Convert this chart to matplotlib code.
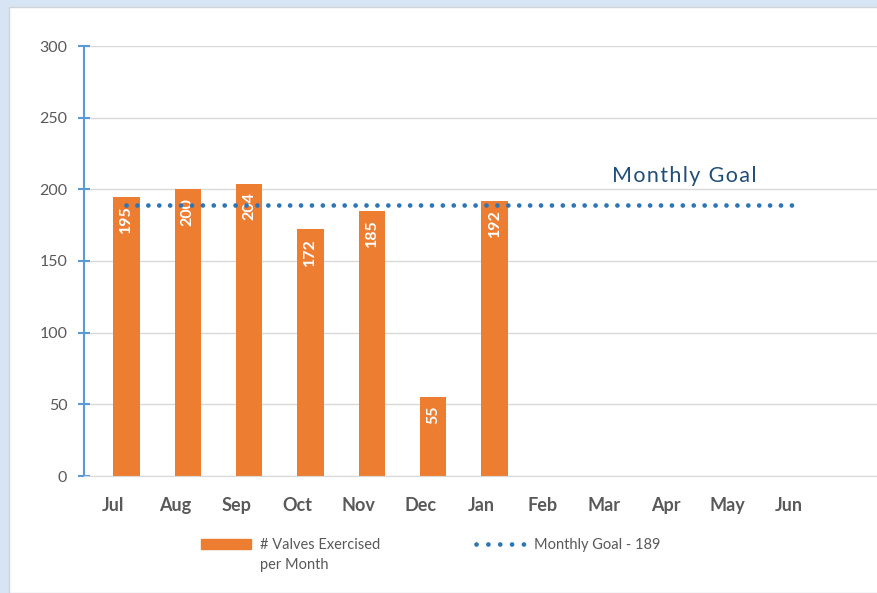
import numpy as np
import matplotlib
matplotlib.use('Agg')
from matplotlib import pyplot as plt
from matplotlib import transforms
from matplotlib.patches import Rectangle
from matplotlib.lines import Line2D

# data
months = ['Jul', 'Aug', 'Sep', 'Oct', 'Nov', 'Dec', 'Jan',
          'Feb', 'Mar', 'Apr', 'May', 'Jun']
valves = [195, 200, 204, 172, 185, 55, 192]
goal = [189] * 12
y_ticks = [0, 50, 100, 150, 200, 250, 300]

plt.rcParams['font.family'] = ['Lato', 'DejaVu Sans']

orange = '#ED7D31'
blue = '#2E75B6'
gray_txt = '#595959'

fig = plt.figure(figsize=(8.78, 5.93), dpi=100, facecolor='#d6e4f3')
# white panel behind everything
fig.patches.append(Rectangle((9 / 878, 0), 1, 1 - 7 / 593, transform=fig.transFigure,
                             facecolor='white', edgecolor='#d0d4d9', lw=1, zorder=-5))

ax = fig.add_axes([84 / 878, 1 - 476 / 593, (878 - 84) / 878, (476 - 46) / 593])
ax.set_facecolor('none')
ax.set_zorder(2)

x = np.arange(len(months))
bars = ax.bar(x[:len(valves)], valves, width=0.43, color=orange, zorder=2)

for xi, v in zip(x, valves):
    ax.text(xi, v - 6, str(v), rotation=90, ha='center', va='top',
            color='white', fontsize=11.5, fontweight='bold', zorder=3)

ax.plot(x, goal, color=blue, lw=3.4, linestyle=(0, (0.01, 2.3)),
        dash_capstyle='round', zorder=4)

# letter-spaced annotation
ax.text(7.92, 209, '\u200a'.join('Monthly Goal'), color='#1F4E79', fontsize=15.5,
        ha='left', va='center', family=['Lato', 'DejaVu Sans'])

ax.set_ylim(0, 300)
ax.set_xlim(-0.69, 12.25)
ax.set_yticks(y_ticks)
ax.set_xticks(x)
ax.set_xticklabels(months)
ax.grid(axis='y', color='#d9d9d9', lw=1, zorder=0)
ax.set_axisbelow(True)

for s in ['top', 'right']:
    ax.spines[s].set_visible(False)
ax.spines['left'].set_color('#5B9BD5')
ax.spines['left'].set_linewidth(1.5)
ax.spines['bottom'].set_color('#d9d9d9')

ax.tick_params(axis='y', direction='inout', length=8, width=1.5, color='#5B9BD5',
               labelcolor=gray_txt, labelsize=11.5, pad=8)
ax.tick_params(axis='x', length=0, labelcolor=gray_txt, labelsize=13, pad=15)
shift = transforms.ScaledTranslation(-13 / 100, 0, fig.dpi_scale_trans)
for lab in ax.get_xticklabels():
    lab.set_fontweight('bold')
    lab.set_transform(lab.get_transform() + shift)

handles = [Rectangle((0, 0), 1, 1, color=orange),
           Line2D([0], [0], color=blue, lw=3.4, linestyle=(0, (0.01, 2.5)),
                  dash_capstyle='round')]
leg = fig.legend(handles, ['# Valves Exercised', 'Monthly Goal - 189'],
                 loc='center', bbox_to_anchor=(431 / 878, 1 - 545 / 593), ncol=2,
                 frameon=False, fontsize=10.5, labelcolor=gray_txt,
                 handlelength=3.4, handleheight=0.7, columnspacing=6.6,
                 handletextpad=0.6)

# second line of the first legend label
fig.canvas.draw()
bb = leg.get_texts()[0].get_window_extent().transformed(fig.transFigure.inverted())
fig.text(bb.x0, bb.y0 - 6 / 593, 'per Month', ha='left', va='top',
         fontsize=10.5, color=gray_txt)

fig.savefig('out.png', dpi=100, facecolor=fig.get_facecolor())
